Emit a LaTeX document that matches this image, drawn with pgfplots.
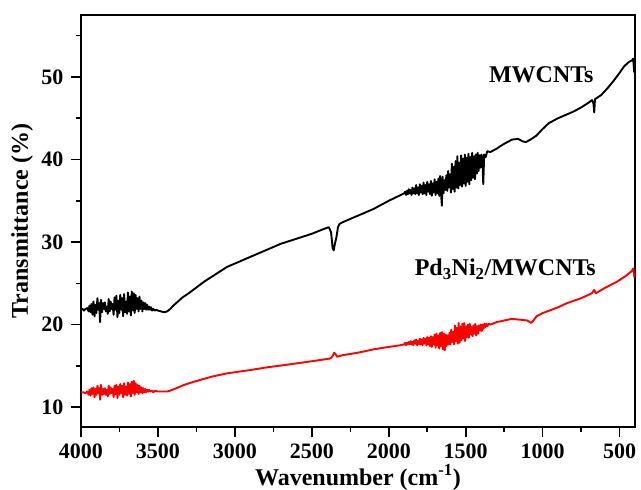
\documentclass[border=0pt]{standalone}
\usepackage{fontspec}
\setmainfont{Liberation Serif}
\usepackage{pgfplots}
\pgfplotsset{compat=1.18}
\begin{document}
\begin{tikzpicture}
\begin{axis}[
  scale only axis,
  width=554pt, height=412pt,
  x dir=reverse,
  xmin=400, xmax=4000,
  ymin=7.6, ymax=57.5,
  xtick={500,1000,...,4000},
  minor xtick={750,1250,...,3750},
  ytick={10,20,...,50},
  minor ytick={15,25,35,45,55},
  tick align=outside,
  tick pos=left,
  major tick length=10pt, minor tick length=5pt,
  major tick style={draw=black, line width=1.6pt},
  minor tick style={draw=black, line width=1.6pt},
  axis line style={line width=1.6pt},
  scaled x ticks=false, scaled y ticks=false,
  /pgf/number format/1000 sep={},
  /pgf/number format/assume math mode=true,
  ticklabel style={font=\fontsize{22}{22}\selectfont\bfseries},
  xticklabel style={yshift=-3pt},
  yticklabel style={xshift=-4pt},
  xlabel={Wavenumber (cm\textsuperscript{-1})},
  ylabel={Transmittance (\%)},
  label style={font=\fontsize{24}{24}\selectfont\bfseries},
  xlabel style={at={(axis description cs:0.5,0)}, anchor=base, yshift=-58pt},
  ylabel style={at={(axis description cs:0,0.5)}, anchor=center, yshift=59pt},
]
\coordinate (bl) at (rel axis cs:0,0);
\coordinate (tr) at (rel axis cs:1,1);
\addplot[black, line width=1.9pt, line join=round] coordinates {
(4000,21.8)(3990,21.9)(3980,21.7)(3970,21.9)(3960,22.0)(3950,21.6)(3945,22.3)(3938,21.5)(3932,22.5)(3925,21.2)
(3919,22.8)(3912,21.0)(3906,22.4)(3900,21.4)(3893,23.2)(3887,21.8)(3882,22.6)(3876,20.3)(3870,23.0)(3863,21.5)
(3857,22.6)(3851,21.9)(3845,22.7)(3839,21.6)(3832,22.2)(3826,21.3)(3820,23.1)(3813,21.6)(3807,22.8)(3801,21.9)
(3795,22.5)(3788,21.2)(3782,23.3)(3776,21.8)(3770,23.5)(3763,20.9)(3757,22.9)(3751,21.4)(3745,23.6)(3738,21.8)
(3732,23.2)(3726,21.0)(3720,23.7)(3713,21.5)(3707,22.8)(3701,21.3)(3695,23.9)(3688,21.6)(3682,23.4)(3676,21.1)
(3670,24.0)(3663,21.7)(3657,23.8)(3651,21.4)(3645,23.6)(3638,21.9)(3632,23.2)(3626,21.6)(3620,23.4)(3613,21.9)
(3607,22.9)(3601,21.6)(3595,22.7)(3588,21.9)(3582,22.6)(3576,21.8)(3570,22.4)(3563,21.8)(3557,22.2)(3551,21.8)
(3545,22.1)(3538,21.7)(3530,21.9)(3520,21.7)(3510,21.8)(3500,21.7)(3480,21.6)(3460,21.5)(3440,21.6)(3420,21.9)
(3400,22.3)(3370,22.8)(3340,23.3)(3300,23.8)(3250,24.5)(3200,25.2)(3150,25.8)(3100,26.4)(3050,27.0)(3000,27.4)
(2900,28.2)(2800,29.0)(2700,29.8)(2600,30.4)(2500,31.0)(2420,31.6)(2390,31.8)(2375,31.2)(2365,29.3)(2358,29.0)
(2350,29.8)(2340,30.6)(2330,31.8)(2320,32.2)(2300,32.4)(2200,33.2)(2100,34.0)(2000,35.0)
(1900,35.9)(1894,36.1)(1888,35.7)(1882,36.2)(1876,35.8)(1870,36.4)(1864,35.9)(1858,36.3)(1852,35.7)(1846,36.6)
(1840,35.9)(1834,36.5)(1828,35.8)(1822,36.9)(1816,35.9)(1810,36.6)(1804,35.7)(1798,37.0)(1792,36.0)(1786,36.8)
(1780,35.8)(1774,37.2)(1768,35.9)(1762,36.9)(1756,35.7)(1750,37.3)(1744,36.1)(1738,37.0)(1732,35.8)(1726,37.4)
(1720,35.6)(1714,37.1)(1708,36.0)(1702,37.6)(1696,35.7)(1690,37.3)(1684,35.9)(1678,37.7)(1672,35.6)(1666,38.0)
(1660,35.8)(1655,34.4)(1650,37.9)(1644,35.9)(1638,37.5)(1632,36.3)(1626,38.1)(1620,36.2)(1614,38.6)(1608,36.6)
(1602,38.2)(1596,36.0)(1590,39.5)(1584,36.4)(1578,39.1)(1572,36.1)(1566,39.8)(1560,36.6)(1554,40.4)(1548,36.5)
(1542,39.6)(1536,36.9)(1530,40.5)(1524,36.7)(1518,40.1)(1512,37.1)(1506,40.6)(1500,36.8)(1494,40.2)(1488,37.3)
(1482,40.7)(1476,37.0)(1470,40.3)(1464,37.5)(1458,40.8)(1452,37.8)(1446,40.4)(1440,37.6)(1434,40.6)(1428,38.3)
(1422,40.8)(1416,38.6)(1410,40.5)(1404,39.0)(1398,40.6)(1392,40.2)(1386,37.0)(1380,40.6)(1370,40.3)(1360,41.0)
(1340,40.9)(1300,41.3)(1276,41.6)(1250,41.9)(1200,42.4)(1160,42.5)(1130,42.2)(1110,42.1)(1080,42.4)(1040,42.9)
(1000,43.7)(960,44.4)(900,45.0)(850,45.4)(800,45.8)(750,46.3)(700,46.9)(680,47.2)(670,46.8)(665,45.7)
(660,47.3)(620,47.8)(580,48.6)(540,49.5)(500,50.5)(470,51.3)(440,51.8)(420,52.0)(412,52.2)(405,50.6)(400,51.0)
};
\addplot[red, line width=1.9pt, line join=round] coordinates {
(4000,11.8)(3985,11.8)(3970,11.7)(3960,11.9)(3950,11.5)(3945,12.1)(3938,11.4)(3932,12.3)(3925,11.6)(3919,12.4)
(3912,11.2)(3906,12.2)(3900,11.5)(3893,12.6)(3887,11.7)(3882,12.3)(3876,10.9)(3870,12.7)(3863,11.5)(3857,12.2)
(3851,11.6)(3845,12.3)(3839,11.5)(3832,12.1)(3826,11.3)(3820,12.6)(3813,11.6)(3807,12.4)(3801,11.7)(3795,12.2)
(3788,11.2)(3782,12.6)(3776,11.6)(3770,12.7)(3763,11.1)(3757,12.5)(3751,11.5)(3745,12.8)(3738,11.7)(3732,12.6)
(3726,11.2)(3720,12.9)(3713,11.5)(3707,12.5)(3701,11.4)(3695,13.0)(3688,11.6)(3682,12.8)(3676,11.3)(3670,13.1)
(3663,11.7)(3657,13.2)(3651,11.5)(3645,12.9)(3638,11.8)(3632,12.7)(3626,11.6)(3620,12.6)(3613,11.8)(3607,12.4)
(3601,11.7)(3595,12.3)(3588,11.8)(3582,12.2)(3576,11.8)(3570,12.1)(3563,11.9)(3557,12.1)(3550,11.9)(3540,12.0)
(3530,11.8)(3520,12.0)(3500,11.9)(3470,11.9)(3440,11.9)(3420,12.0)(3380,12.3)(3330,12.7)(3280,13.0)(3226,13.3)
(3150,13.7)(3050,14.1)(2900,14.5)(2800,14.8)(2600,15.3)(2450,15.7)(2380,15.9)(2365,16.2)(2355,16.6)(2345,16.4)
(2335,16.1)(2300,16.3)(2200,16.6)(2100,17.0)(2000,17.3)(1926,17.5)
(1900,17.6)(1894,17.8)(1888,17.5)(1882,17.8)(1876,17.6)(1870,17.9)(1864,17.6)(1858,18.0)(1852,17.6)(1846,17.9)
(1840,17.5)(1834,18.1)(1828,17.7)(1822,18.2)(1816,17.5)(1810,18.0)(1804,17.6)(1798,18.3)(1792,17.6)(1786,18.2)
(1780,17.5)(1774,18.4)(1768,17.7)(1762,18.3)(1756,17.5)(1750,18.5)(1744,17.6)(1738,18.4)(1732,17.4)(1726,18.6)
(1720,17.3)(1714,18.5)(1708,17.6)(1702,18.8)(1696,17.2)(1690,18.9)(1684,17.5)(1678,18.7)(1672,17.1)(1666,19.0)
(1660,17.4)(1654,19.1)(1648,17.0)(1642,18.9)(1636,16.9)(1630,18.8)(1624,17.4)(1618,18.7)(1612,17.6)(1606,19.0)
(1600,17.6)(1594,19.4)(1588,17.9)(1582,19.1)(1576,17.6)(1570,19.9)(1564,18.0)(1558,19.6)(1552,17.7)(1546,20.2)
(1540,17.8)(1534,19.8)(1528,18.1)(1522,20.1)(1516,18.3)(1510,20.2)(1504,18.0)(1498,19.8)(1492,18.5)(1486,20.0)
(1480,18.4)(1474,20.1)(1468,18.8)(1462,19.7)(1456,18.6)(1450,19.9)(1444,18.9)(1438,20.1)(1432,18.7)(1426,19.8)
(1420,18.9)(1414,19.9)(1408,19.3)(1402,20.0)(1396,19.2)(1390,20.0)(1384,19.5)(1378,20.1)(1372,19.7)(1366,20.1)
(1360,19.8)(1350,20.1)(1340,20.0)(1300,20.3)(1250,20.5)(1200,20.7)(1150,20.6)(1100,20.5)(1075,20.2)(1060,20.5)
(1040,21.0)(1000,21.4)(900,22.1)(842,22.6)(750,23.2)(680,23.8)(665,24.2)(655,23.8)(600,24.4)(517,25.2)
(460,25.9)(420,26.5)(412,26.8)(405,25.8)(400,26.0)
};
\node[anchor=base, font=\fontsize{24}{24}\selectfont\bfseries] at (axis cs:1009,49.3) {MWCNTs};
\node[anchor=base, font=\fontsize{24}{24}\selectfont\bfseries] at (axis cs:1243,25.9) {Pd\textsubscript{3}Ni\textsubscript{2}/MWCNTs};
\end{axis}
\pgfresetboundingbox
\path ([shift={(-81pt,-62pt)}]bl) rectangle ([shift={(6pt,15pt)}]tr);
\end{tikzpicture}
\end{document}
